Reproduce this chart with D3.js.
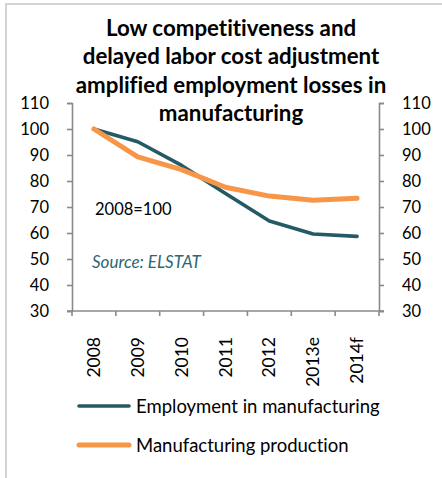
<!DOCTYPE html>
<html>
<head>
<meta charset="utf-8">
<script src="https://cdn.jsdelivr.net/npm/d3@7"></script>
<style>
  html, body { margin: 0; padding: 0; background: #fff; }
  svg { display: block; }
  text { font-family: Lato, "Open Sans", sans-serif; font-variant-ligatures: none; font-feature-settings: "liga" 0, "dlig" 0; }
</style>
</head>
<body>
<svg id="chart" width="442" height="478"></svg>
<script>
// Index values, 2008 = 100
const years = ["2008", "2009", "2010", "2011", "2012", "2013e", "2014f"];
const employment = [100, 95.1, 86, 75.2, 64.6, 59.6, 58.7];
const production = [100, 89.3, 84.4, 77.6, 74.2, 72.6, 73.4];
const yTicks = [30, 40, 50, 60, 70, 80, 90, 100, 110];
const titleLines = [
  "Low competitiveness and",
  "delayed labor cost adjustment",
  "amplified employment losses in",
  "manufacturing"
];
const seriesNames = ["Employment in manufacturing", "Manufacturing production"];

const tealColor = "#235a66";
const orangeColor = "#f79646";
const axisColor = "#8a8a8a";

const svg = d3.select("#chart");

// chart frame
svg.append("rect")
  .attr("x", 6).attr("y", 4)
  .attr("width", 460).attr("height", 500)
  .attr("fill", "none")
  .attr("stroke", "#d4d4d4")
  .attr("stroke-width", 2);

const plot = { left: 72, right: 379, top: 103, bottom: 311 };

const x = d3.scaleBand().domain(years).range([plot.left, plot.right]);
const y = d3.scaleLinear().domain([30, 110]).range([plot.bottom, plot.top]);

// title
svg.append("g")
  .selectAll("text")
  .data(titleLines)
  .join("text")
  .attr("x", 231)
  .attr("y", (d, i) => 35.5 + i * 28.5)
  .attr("text-anchor", "middle")
  .attr("font-size", 22.3)
  .attr("font-weight", "bold")
  .attr("fill", "#000")
  .text(d => d);

// axes
function styleAxis(g) {
  g.selectAll("path.domain").attr("stroke", axisColor).attr("stroke-width", 1.6);
  g.selectAll(".tick line").attr("stroke", axisColor).attr("stroke-width", 1.6);
  g.selectAll(".tick text")
    .attr("fill", "#000")
    .attr("font-size", 16.5)
    .attr("font-family", "Lato, 'Open Sans', sans-serif");
}

const leftAxis = d3.axisLeft(y).tickValues(yTicks).tickSize(5).tickSizeOuter(5).tickPadding(18);
svg.append("g")
  .attr("transform", `translate(${plot.left},0)`)
  .call(leftAxis)
  .call(styleAxis);

const rightAxis = d3.axisRight(y).tickValues(yTicks).tickSize(5).tickSizeOuter(5).tickPadding(18);
svg.append("g")
  .attr("transform", `translate(${plot.right},0)`)
  .call(rightAxis)
  .call(styleAxis);

// bottom axis: ticks on category boundaries
const boundaries = d3.range(years.length + 1).map(i => plot.left + i * x.step());
const bottom = svg.append("g");
bottom.append("line")
  .attr("x1", plot.left - 5).attr("x2", plot.right + 5)
  .attr("y1", plot.bottom).attr("y2", plot.bottom)
  .attr("stroke", axisColor).attr("stroke-width", 1.6);
bottom.selectAll("line.tk")
  .data(boundaries)
  .join("line")
  .attr("class", "tk")
  .attr("x1", d => d).attr("x2", d => d)
  .attr("y1", plot.bottom).attr("y2", plot.bottom + 5)
  .attr("stroke", axisColor).attr("stroke-width", 1.6);

bottom.selectAll("text")
  .data(years)
  .join("text")
  .attr("transform", d => `translate(${x(d) + x.bandwidth() / 2},337) rotate(-90)`)
  .attr("text-anchor", "end")
  .attr("dy", "0.35em")
  .attr("font-size", 17.5)
  .attr("fill", "#000")
  .text(d => d);

// series lines
const line = d3.line()
  .x((d, i) => x(years[i]) + x.bandwidth() / 2)
  .y(d => y(d));

svg.append("path")
  .datum(employment)
  .attr("d", line)
  .attr("fill", "none")
  .attr("stroke", tealColor)
  .attr("stroke-width", 3.6)
  .attr("stroke-linejoin", "round")
  .attr("stroke-linecap", "round");

svg.append("path")
  .datum(production)
  .attr("d", line)
  .attr("fill", "none")
  .attr("stroke", orangeColor)
  .attr("stroke-width", 5)
  .attr("stroke-linejoin", "round")
  .attr("stroke-linecap", "round");

// annotations
svg.append("text")
  .attr("x", 95).attr("y", 215)
  .attr("font-size", 16.5)
  .attr("fill", "#000")
  .text("2008=100");

svg.append("text")
  .attr("x", 92).attr("y", 268)
  .attr("font-size", 17)
  .attr("font-style", "italic")
  .attr("fill", "#2b6774")
  .text("Source: ELSTAT");

// legend
const legend = svg.append("g");
const legendRows = [
  { name: seriesNames[0], color: tealColor, width: 3.6, y: 406 },
  { name: seriesNames[1], color: orangeColor, width: 5, y: 445 }
];
legend.selectAll("line")
  .data(legendRows)
  .join("line")
  .attr("x1", 79).attr("x2", 129)
  .attr("y1", d => d.y).attr("y2", d => d.y)
  .attr("stroke", d => d.color)
  .attr("stroke-width", d => d.width)
  .attr("stroke-linecap", "round");
legend.selectAll("text")
  .data(legendRows)
  .join("text")
  .attr("x", 136)
  .attr("y", d => d.y + 7)
  .attr("font-size", 18.5)
  .attr("fill", "#000")
  .text(d => d.name);
</script>
</body>
</html>
